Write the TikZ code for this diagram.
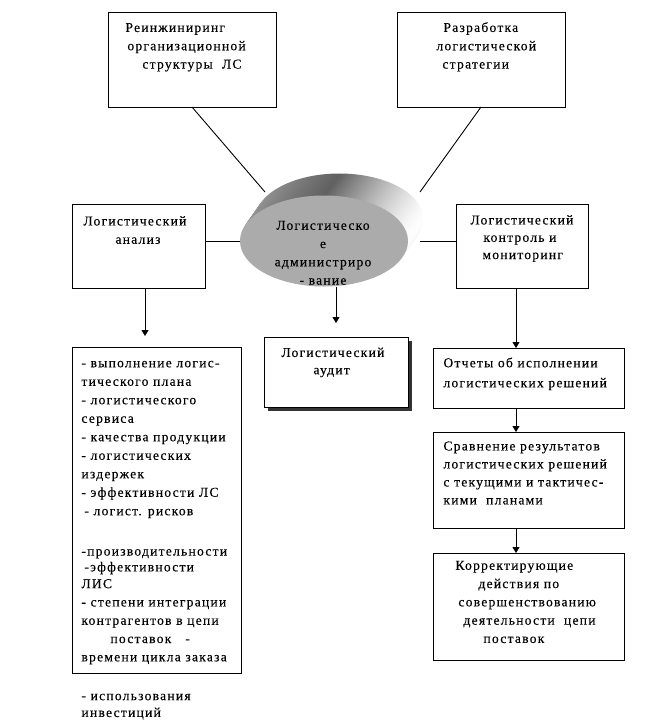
\documentclass[tikz,border=0pt]{standalone}
\usepackage{fontspec}
\setmainfont{Liberation Serif}[LetterSpace=9, FakeBold=0.2]
\usetikzlibrary{arrows.meta,shapes.geometric,shadows}

\begin{document}
\begin{tikzpicture}[x=1pt, y=-1pt, line width=0.9pt,
     box/.style = {rectangle, draw, outer sep=0pt, inner sep=0pt},% frames of the blocks
     txt/.style = {anchor=north west, align=left, inner sep=0pt,
                   font=\fontsize{13.6}{18.3}\selectfont},% texts inside the frames
     arr/.style = {-{Triangle[length=6pt,width=7pt]}},
                        ]
\useasboundingbox (0,0) rectangle (649,720);
% frames
\node[box, minimum width=168pt, minimum height=95pt]  (reeng)   at (192,59.5)  {};
\node[box, minimum width=168pt, minimum height=95pt]  (strat)   at (481,59.5)  {};
\node[box, minimum width=133pt, minimum height=84pt]  (analiz)  at (138.5,246) {};
\node[box, minimum width=132pt, minimum height=84pt]  (kontrol) at (522,246)   {};
\node[box, fill=white, minimum width=144pt, minimum height=70pt,
      drop shadow={shadow xshift=3.5pt, shadow yshift=-3.5pt, fill=black!80, opacity=1}]
                                                      (audit)   at (336,372)   {};
\node[box, minimum width=169pt, minimum height=326pt] (pokaz)   at (156.5,510) {};
\node[box, minimum width=191pt, minimum height=60pt]  (otchet)  at (528.5,378) {};
\node[box, minimum width=191pt, minimum height=96pt]  (sravn)   at (528.5,480) {};
\node[box, minimum width=191pt, minimum height=107pt] (korr)    at (528.5,606.5) {};
% the 3d ellipse in the middle
\coordinate (c) at (324,241);
\foreach \k in {22,21,...,1}
    \shade[left color=black!40, right color=white, middle color=black!62]
          ([shift={(0.7*\k,-\k)}]c) ellipse [x radius=84, y radius=45.5];
\node[ellipse, fill=black!33, minimum width=168pt, minimum height=91pt,
      inner sep=0pt] (admin) at (c) {};
% texts
\node[txt] (reeng-t) at (125,18.7)
     {\strut Реинжиниринг\\ \hspace*{2pt}организационной\\ \hspace*{17pt}структуры\ \ ЛС};
\node[txt] (strat-t) at (436,18.7)
     {\strut\hspace*{7pt}Разработка\\ логистической\\ \hspace*{6pt}стратегии};
\node[txt, anchor=north, align=center] (admin-t) at (323,216.5)
     {\strut Логистическо\\ е\\ администриро\\ - вание};
\node[txt] (analiz-t) at (83,212.2)
     {\strut Логистический\\ \hspace*{32pt}анализ};
\node[txt] (kontrol-t) at (470,211.2)
     {\strut Логистический\\[-1pt] \hspace*{13pt}контроль и\\[-1pt] \hspace*{12pt}мониторинг};
\node[txt] (audit-t) at (281,343.7)
     {\strut Логистический\\[-1pt] \hspace*{32pt}аудит};
\node[txt] (pokaz-t) at (81,354)
     {\strut - выполнение логис-\\[0.2pt]
      тического плана\\[0.2pt]
      - логистического\\[0.2pt]
      сервиса\\[0.2pt]
      - качества продукции\\[0.2pt]
      - логистических\\[0.2pt]
      издержек\\[0.2pt]
      - эффективности ЛС\\[0.2pt]
      \hspace*{3pt}- логист. рисков\\[22pt]
      -производительности\\[-2.5pt]
      \hspace*{3pt}-эффективности\\[-1.5pt]
      ЛИС\\
      - степени интеграции\\
      контрагентов в цепи\\
      \hspace*{29pt}поставок\hspace*{14pt}-\\
      времени цикла заказа\\[20.5pt]
      - использования\\[-1.5pt]
      инвестиций};
\node[txt] (otchet-t) at (443,354)
     {\strut Отчеты об исполнении\\[1.7pt] логистических решений};
\node[txt] (sravn-t) at (443,437.2)
     {\strut Сравнение результатов\\[-0.3pt] логистических решений\\[-0.3pt]
      с текущими и тактичес-\\[-0.3pt] кими\ \ планами};
\node[txt] (korr-t) at (455,556.5)
     {\strut Корректирующие\\ \hspace*{23pt}действия по\\ \hspace*{3pt}совершенствованию\\
      \hspace*{8pt}деятельности\ \ цепи\\ \hspace*{28pt}поставок};
% connectors
\coordinate (rl) at (265,192);
\coordinate (rr) at (420,192);
\coordinate (kl) at (420,241);
\draw (reeng.south) -- (rl);
\draw (strat.south) -- (rr);
\draw (analiz.east |- admin.west) -- (admin.west);
\draw (kl) -- (kontrol.west |- kl);
% arrows
\coordinate (xa) at (145,336);
\coordinate (xb) at (336,323);
\coordinate (xc) at (516,0);
\draw[arr] (analiz.south -| xa) -- (xa);
\draw[arr] (admin.south -| xb) -- (xb);
\foreach \a/\b in {kontrol/otchet, otchet/sravn, sravn/korr}
    \draw[arr] (\a.south -| xc) -- (\b.north -| xc);
\end{tikzpicture}
\end{document}
